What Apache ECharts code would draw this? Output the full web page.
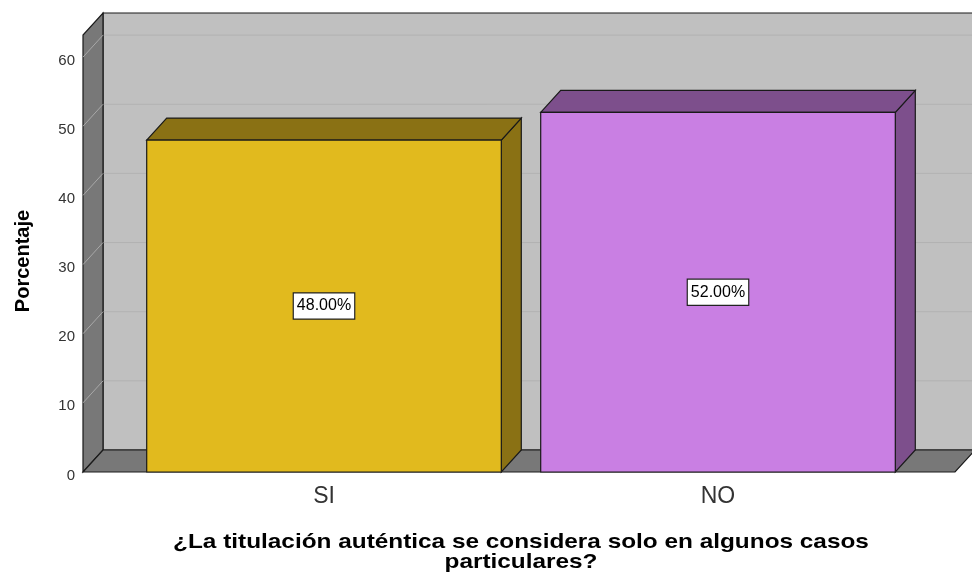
<!DOCTYPE html>
<html>
<head>
<meta charset="utf-8">
<script src="https://cdn.jsdelivr.net/npm/echarts@6/dist/echarts.min.js"></script>
<style>
  html, body { margin: 0; padding: 0; background: #ffffff; }
  #chart { width: 972px; height: 574px; }
</style>
</head>
<body>
<div id="chart"></div>
<script>
// Survey answers and their share of respondents
const categories = ['SI', 'NO'];
const percentages = [48, 52];
const yTicks = [0, 10, 20, 30, 40, 50, 60];
const yMax = 63.2;
const xTitle = '¿La titulación auténtica se considera solo en algunos casos\nparticulares?';
const yTitle = 'Porcentaje';

const frontColors = ['#E1BA1E', '#C97FE3'];
const shadeColors = ['#8A7114', '#7D4F8C'];
const FONT = '"Liberation Sans", Arial, sans-serif';

// Depth of the pseudo-3D extrusion (pixels)
const DX = 20, DY = -22;
const off = p => [p[0] + DX, p[1] + DY];

// Walls, floor and grid lines of the 3D box
function renderFrame(params, api) {
  const fl = api.coord([0, 0]);
  const fr = api.coord([1, 0]);
  const tl = api.coord([0, yMax]);
  const tr = api.coord([1, yMax]);
  const children = [];
  children.push({
    type: 'polygon',
    shape: { points: [off(tl), off(tr), off(fr), off(fl)] },
    style: { fill: '#C0C0C0', stroke: '#1a1a1a', lineWidth: 1.2 }
  });
  yTicks.forEach(v => {
    if (v === 0) return;
    const a = api.coord([0, v]);
    const b = api.coord([1, v]);
    children.push({
      type: 'line',
      shape: { x1: off(a)[0], y1: off(a)[1], x2: off(b)[0], y2: off(b)[1] },
      style: { stroke: '#B2B2B2', lineWidth: 1 }
    });
  });
  children.push({
    type: 'polygon',
    shape: { points: [fl, tl, off(tl), off(fl)] },
    style: { fill: '#787878', stroke: '#1a1a1a', lineWidth: 1.2 }
  });
  yTicks.forEach(v => {
    if (v === 0) return;
    const a = api.coord([0, v]);
    const b = off(a);
    children.push({
      type: 'line',
      shape: { x1: a[0], y1: a[1], x2: b[0], y2: b[1] },
      style: { stroke: '#A8A8A8', lineWidth: 1 }
    });
  });
  children.push({
    type: 'polygon',
    shape: { points: [fl, fr, off(fr), off(fl)] },
    style: { fill: '#787878', stroke: '#1a1a1a', lineWidth: 1.2 }
  });
  return { type: 'group', children: children };
}

// Extruded bar with a boxed value label
function renderBar(params, api) {
  const i = api.value(0);
  const v = api.value(1);
  const base = api.coord([i, 0]);
  const top = api.coord([i, v]);
  const w = api.size([1, 0])[0] * 0.9;
  const x0 = base[0] - w / 2, x1 = base[0] + w / 2;
  const yb = base[1], yt = top[1];
  const edge = { stroke: '#1a1a1a', lineWidth: 1.2 };
  return {
    type: 'group',
    children: [
      {
        type: 'polygon',
        shape: { points: [[x1, yt], [x1 + DX, yt + DY], [x1 + DX, yb + DY], [x1, yb]] },
        style: Object.assign({ fill: shadeColors[i] }, edge)
      },
      {
        type: 'polygon',
        shape: { points: [[x0, yt], [x1, yt], [x1 + DX, yt + DY], [x0 + DX, yt + DY]] },
        style: Object.assign({ fill: shadeColors[i] }, edge)
      },
      {
        type: 'rect',
        shape: { x: x0, y: yt, width: w, height: yb - yt },
        style: Object.assign({ fill: frontColors[i] }, edge)
      },
      {
        type: 'text',
        x: base[0],
        y: (yt + yb) / 2,
        style: {
          text: v.toFixed(2) + '%',
          align: 'center',
          verticalAlign: 'middle',
          fill: '#000',
          font: '16px ' + FONT,
          backgroundColor: '#ffffff',
          borderColor: '#222',
          borderWidth: 1.2,
          padding: [7, 3, 2, 3]
        }
      }
    ]
  };
}

const chart = echarts.init(document.getElementById('chart'), null, { renderer: 'canvas' });
chart.setOption({
  animation: false,
  backgroundColor: '#ffffff',
  grid: [
    { left: 83, right: 17, top: 35, bottom: 102 },
    { left: 127, right: 57, top: 35, bottom: 102 }
  ],
  xAxis: [
    { type: 'value', gridIndex: 0, min: 0, max: 1, show: false },
    {
      type: 'category', gridIndex: 1, data: categories,
      axisLine: { show: false }, axisTick: { show: false },
      axisLabel: { fontSize: 23, color: '#333', margin: 13, fontFamily: FONT }
    }
  ],
  yAxis: [
    {
      type: 'value', gridIndex: 0, min: 0, max: yMax, interval: 10,
      axisLine: { show: false }, axisTick: { show: false }, splitLine: { show: false },
      axisLabel: {
        fontSize: 15, color: '#333', margin: 8, showMaxLabel: false, fontFamily: FONT,
        verticalAlign: 'top', lineHeight: 7
      },
      name: yTitle, nameLocation: 'middle', nameGap: 50,
      nameTextStyle: { fontSize: 20, fontWeight: 'bold', color: '#000', fontFamily: FONT, padding: [0, 15, 0, 0] }
    },
    { type: 'value', gridIndex: 1, min: 0, max: yMax, show: false }
  ],
  // Category axis title, centred under the bars
  graphic: [
    {
      type: 'text',
      x: 521,
      y: 552,
      scaleX: 1.16,
      style: {
        text: xTitle,
        align: 'center',
        verticalAlign: 'middle',
        fill: '#000',
        font: 'bold 21px ' + FONT,
        lineHeight: 20
      }
    }
  ],
  series: [
    {
      type: 'custom', xAxisIndex: 0, yAxisIndex: 0, z: 1,
      data: [[0, 0]], renderItem: renderFrame, silent: true
    },
    {
      type: 'custom', xAxisIndex: 1, yAxisIndex: 1, z: 2,
      data: categories.map((c, i) => [i, percentages[i]]),
      renderItem: renderBar
    }
  ]
});
</script>
</body>
</html>
